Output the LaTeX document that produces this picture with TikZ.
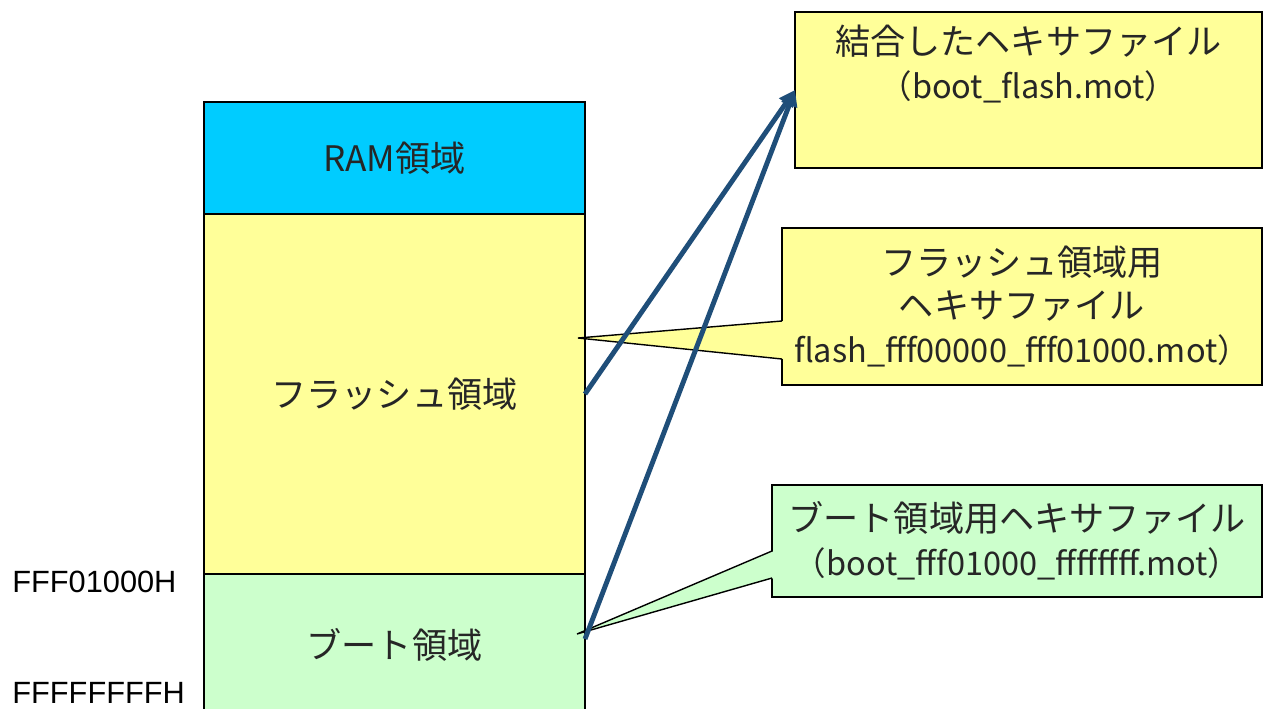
\documentclass[tikz,border=0pt]{standalone}
\usepackage{fontspec}
\setmainfont{Noto Sans CJK JP}
\newfontfamily\addrfont{Liberation Sans}
\newcommand\latline[1]{{\fontsize{18.5}{25.5}\selectfont #1}}
\usetikzlibrary{positioning,arrows.meta}
\definecolor{ramcyan}{RGB}{0,204,255}
\definecolor{flashyellow}{RGB}{255,255,153}
\definecolor{bootgreen}{RGB}{204,255,204}
\definecolor{arrowblue}{RGB}{31,78,121}

\begin{document}
\begin{tikzpicture}[font=\fontsize{20}{25}\selectfont, text=black!85,
  region/.style={draw, line width=1.1pt, minimum width=7.62cm, outer sep=0pt, inner sep=0pt},
  filebox/.style={draw, line width=1.1pt, align=center, outer sep=0pt, inner sep=0pt},
  pointer/.style={line width=0.8pt},
  addr/.style={anchor=west, inner sep=0pt, font=\addrfont\fontsize{17.5}{20}\selectfont, text=black},
  link/.style={arrowblue, line width=2.8pt, -{Triangle[length=0.32cm,width=0.32cm]}}]
  \useasboundingbox (0,0) rectangle (25.28,-14.16);
  \node[region, fill=ramcyan, minimum height=2.24cm] (ram) at (7.89,-3.16) {RAM領域};
  \node[region, fill=flashyellow, minimum height=7.2cm, below=0pt of ram] (flash) {フラッシュ領域};
  \node[region, fill=bootgreen, minimum height=2.84cm, below=0pt of flash] (boot) {ブート領域};
  \node[addr] (addrboot) at (0.24,-11.64) {FFF01000H};
  \node[addr] (addrend) at (0.24,-13.86) {FFFFFFFFH};

  \node[filebox, fill=flashyellow, minimum width=9.34cm, minimum height=3.12cm] (combined) at (20.57,-1.8)
    {結合したヘキサファイル\\\latline{（boot\_flash.mot）}\\\strut};
  \node[filebox, fill=flashyellow, minimum width=9.6cm, minimum height=3.14cm] (flashfile) at (20.44,-6.13)
    {フラッシュ領域用\\ヘキサファイル\\\latline{flash\_fff00000\_fff01000.mot）}};
  \node[filebox, fill=bootgreen, minimum width=9.8cm, minimum height=2.24cm] (bootfile) at (20.34,-10.82)
    {ブート領域用ヘキサファイル\\\latline{（boot\_fff01000\_ffffffff.mot）}};

  \coordinate (flashtip) at (11.56,-6.76);
  \coordinate (boottip) at (11.54,-12.68);
  \fill[flashyellow] ([xshift=0.04cm,yshift=-0.29cm]flashfile.west) -- (flashtip) -- ([xshift=0.04cm,yshift=-1.05cm]flashfile.west) -- cycle;
  \draw[pointer] ([yshift=-0.29cm]flashfile.west) -- (flashtip) -- ([yshift=-1.05cm]flashfile.west);
  \fill[bootgreen] ([xshift=0.04cm,yshift=-0.2cm]bootfile.west) -- (boottip) -- ([xshift=0.04cm,yshift=-0.74cm]bootfile.west) -- cycle;
  \draw[pointer] ([yshift=-0.2cm]bootfile.west) -- (boottip) -- ([yshift=-0.74cm]bootfile.west);

  \draw[link] (flash.east) -- (combined.west);
  \draw[link] ([yshift=0.12cm]boot.east) -- (combined.west);
\end{tikzpicture}
\end{document}
